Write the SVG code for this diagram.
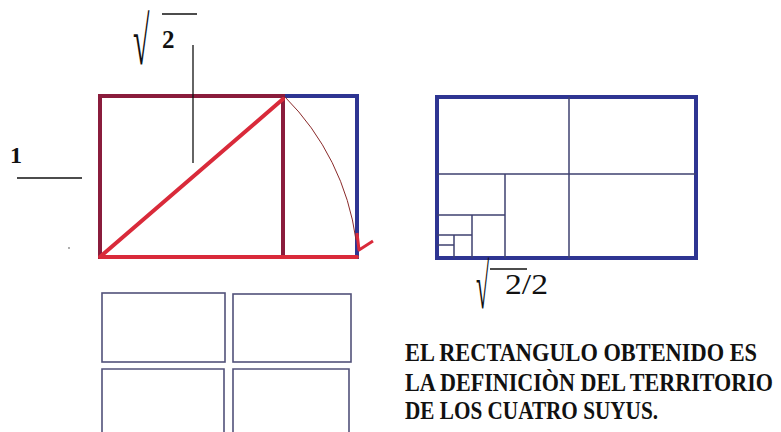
<svg xmlns="http://www.w3.org/2000/svg" width="781" height="432" viewBox="0 0 781 432">
<style>
.maroon{stroke:#8a1c3c;stroke-width:4;fill:none;stroke-linecap:square}
.red{stroke:#d92a3a;stroke-width:4;fill:none;stroke-linecap:round}
.blue{stroke:#2e3592;stroke-width:4;fill:none;stroke-linecap:square}
.thin{stroke:#3f4170;stroke-width:1.5;fill:none}
.box{stroke:#52527a;stroke-width:1.6;fill:none}
.blk{stroke:#111;stroke-width:1.3;fill:none}
.t{font-family:"Liberation Serif",serif;fill:#111}
.cap{font-family:"Liberation Serif",serif;font-weight:bold;font-size:21px;fill:#111}
</style>
<rect width="781" height="432" fill="#fff"/>
<g id="left-figure">
  <path class="blue" d="M283,96 H357 V257"/>
  <path class="maroon" d="M100,257 V96 H283 V257"/>
  <line class="red" x1="100" y1="257" x2="357" y2="257"/>
  <line class="red" x1="101" y1="256" x2="283" y2="99"/>
  <path d="M285,97 A250,250 0 0 1 356,240" stroke="#8a2a2a" stroke-width="1" fill="none"/>
  <path d="M357,233 L359,250 L373,241" stroke="#d92a3a" stroke-width="3" fill="none" stroke-linejoin="round"/>
</g>
<g id="label-1">
  <text class="t" x="10" y="163" style="font-size:24px;font-weight:bold">1</text>
  <line class="blk" x1="17" y1="178" x2="82" y2="178"/>
</g>
<g id="label-sqrt2">
  <text class="t" transform="translate(133,64) scale(0.75,1.7)" style="font-size:40px">√</text>
  <line class="blk" x1="162" y1="14" x2="197" y2="14"/>
  <text class="t" x="162" y="48" style="font-size:25px;font-weight:bold">2</text>
  <line class="blk" x1="193" y1="45" x2="193" y2="163"/>
</g>
<circle cx="69" cy="248" r="0.9" fill="#888"/>
<g id="right-figure">
  <rect class="blue" x="437" y="97" width="259" height="161"/>
  <path class="thin" d="M569,97 V258 M437,174 H696 M505,174 V258 M437,215 H505 M472,215 V258 M437,235 H472 M454,235 V258 M437,245 H454"/>
</g>
<g id="label-sqrt2-2">
  <text class="t" transform="translate(476,308) scale(0.6,1.6)" style="font-size:40px">√</text>
  <line class="blk" x1="490" y1="269" x2="527" y2="269"/>
  <text class="t" x="505" y="294" style="font-size:29px" textLength="43" lengthAdjust="spacingAndGlyphs">2/2</text>
</g>
<g id="four-rects">
  <rect class="box" x="102" y="293" width="123" height="69"/>
  <rect class="box" x="233" y="294" width="118" height="68"/>
  <path class="box" d="M102,434 V369 H224 V434"/>
  <path class="box" d="M233,434 V369 H349 V434"/>
</g>
<g id="caption" transform="translate(405,0) scale(1,1.18)">
  <text class="cap" x="0" y="306" textLength="352" lengthAdjust="spacingAndGlyphs">EL RECTANGULO OBTENIDO ES</text>
  <text class="cap" x="0" y="331.5" textLength="368" lengthAdjust="spacingAndGlyphs">LA DEFINICIÒN DEL TERRITORIO</text>
  <text class="cap" x="0" y="355.5" textLength="253" lengthAdjust="spacingAndGlyphs">DE LOS CUATRO SUYUS.</text>
</g>
</svg>
